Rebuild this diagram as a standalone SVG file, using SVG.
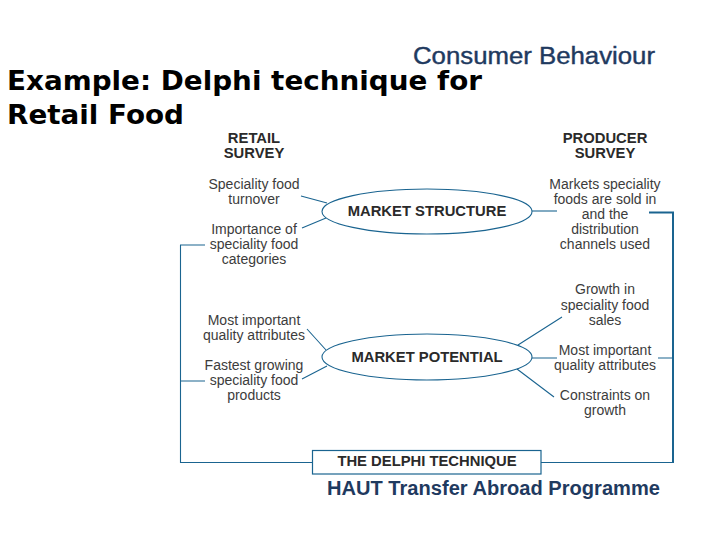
<svg xmlns="http://www.w3.org/2000/svg" width="720" height="540" viewBox="0 0 720 540">
<style>
.t{font-family:"Liberation Sans",Arial,sans-serif;font-size:14px;fill:#3c3c3c;text-anchor:middle}
.h{font-family:"Liberation Sans",Arial,sans-serif;font-size:14.800px;font-weight:bold;fill:#2a2a2a;text-anchor:middle}
.c{fill:none;stroke:#1a6490;stroke-width:1.100}
.b{fill:none;stroke:#1a6490;stroke-width:2}
.s{font-family:"Liberation Sans",Arial,sans-serif;fill:#1f3a5f}
.title{font-family:"DejaVu Sans",Verdana,sans-serif;font-size:27px;font-weight:bold;fill:#000}
</style>
<rect width="720" height="540" fill="#fff"/>
<text class="s" x="413" y="64" style="font-size:23px;stroke:#1f3a5f;stroke-width:0.400" textLength="242" lengthAdjust="spacingAndGlyphs">Consumer Behaviour</text>
<g id="title"><text class="title" x="7" y="90" textLength="475" lengthAdjust="spacingAndGlyphs">Example: Delphi technique for</text><text class="title" x="7" y="124" textLength="177" lengthAdjust="spacingAndGlyphs">Retail Food</text></g>
<g id="connectors">
<path class="c" d="M301 196L327 203M302 228L326 218"/>
<path class="c" d="M532 211H557"/>
<path class="b" d="M649 212.500H673V463"/>
<path class="c" d="M205 245H180.500V462.500H312M205 381H180.500"/>
<path class="c" d="M307 329L326 350M302 379L327 366"/>
<path class="c" d="M562 317L518 345M532 358H557M554 397L517 369"/>
<path class="c" d="M658 358H673M541 462.500H673"/>
</g>
<g id="retail-survey"><text class="h" x="254" y="143">RETAIL</text><text class="h" x="254" y="158">SURVEY</text></g>
<g id="producer-survey"><text class="h" x="605" y="143">PRODUCER</text><text class="h" x="605" y="158">SURVEY</text></g>
<g id="n1"><text class="t" x="254" y="189">Speciality food</text><text class="t" x="254" y="204">turnover</text></g>
<g id="n2"><text class="t" x="254" y="234">Importance of</text><text class="t" x="254" y="249">speciality food</text><text class="t" x="254" y="264">categories</text></g>
<g id="n3"><text class="t" x="605" y="189">Markets speciality</text><text class="t" x="605" y="204">foods are sold in</text><text class="t" x="605" y="219">and the</text><text class="t" x="605" y="234">distribution</text><text class="t" x="605" y="249">channels used</text></g>
<g id="market-structure"><ellipse class="c" cx="427" cy="211.500" rx="105" ry="22.500"/><text class="h" x="427" y="216">MARKET STRUCTURE</text></g>
<g id="market-potential"><ellipse class="c" cx="427" cy="357" rx="105" ry="23"/><text class="h" x="427" y="362">MARKET POTENTIAL</text></g>
<g id="n4"><text class="t" x="605" y="294">Growth in</text><text class="t" x="605" y="310">speciality food</text><text class="t" x="605" y="325">sales</text></g>
<g id="n5"><text class="t" x="254" y="325">Most important</text><text class="t" x="254" y="340">quality attributes</text></g>
<g id="n6"><text class="t" x="254" y="370">Fastest growing</text><text class="t" x="254" y="385">speciality food</text><text class="t" x="254" y="400">products</text></g>
<g id="n7"><text class="t" x="605" y="355">Most important</text><text class="t" x="605" y="370">quality attributes</text></g>
<g id="n8"><text class="t" x="605" y="400">Constraints on</text><text class="t" x="605" y="415">growth</text></g>
<g id="delphi"><rect x="312.500" y="450.500" width="228.500" height="23.500" fill="#fff" stroke="#1a6490" stroke-width="1.200"/><text class="h" x="427" y="466">THE DELPHI TECHNIQUE</text></g>
<text class="s" x="327" y="495" style="font-size:20px;font-weight:bold" textLength="333" lengthAdjust="spacingAndGlyphs">HAUT Transfer Abroad Programme</text>
</svg>
